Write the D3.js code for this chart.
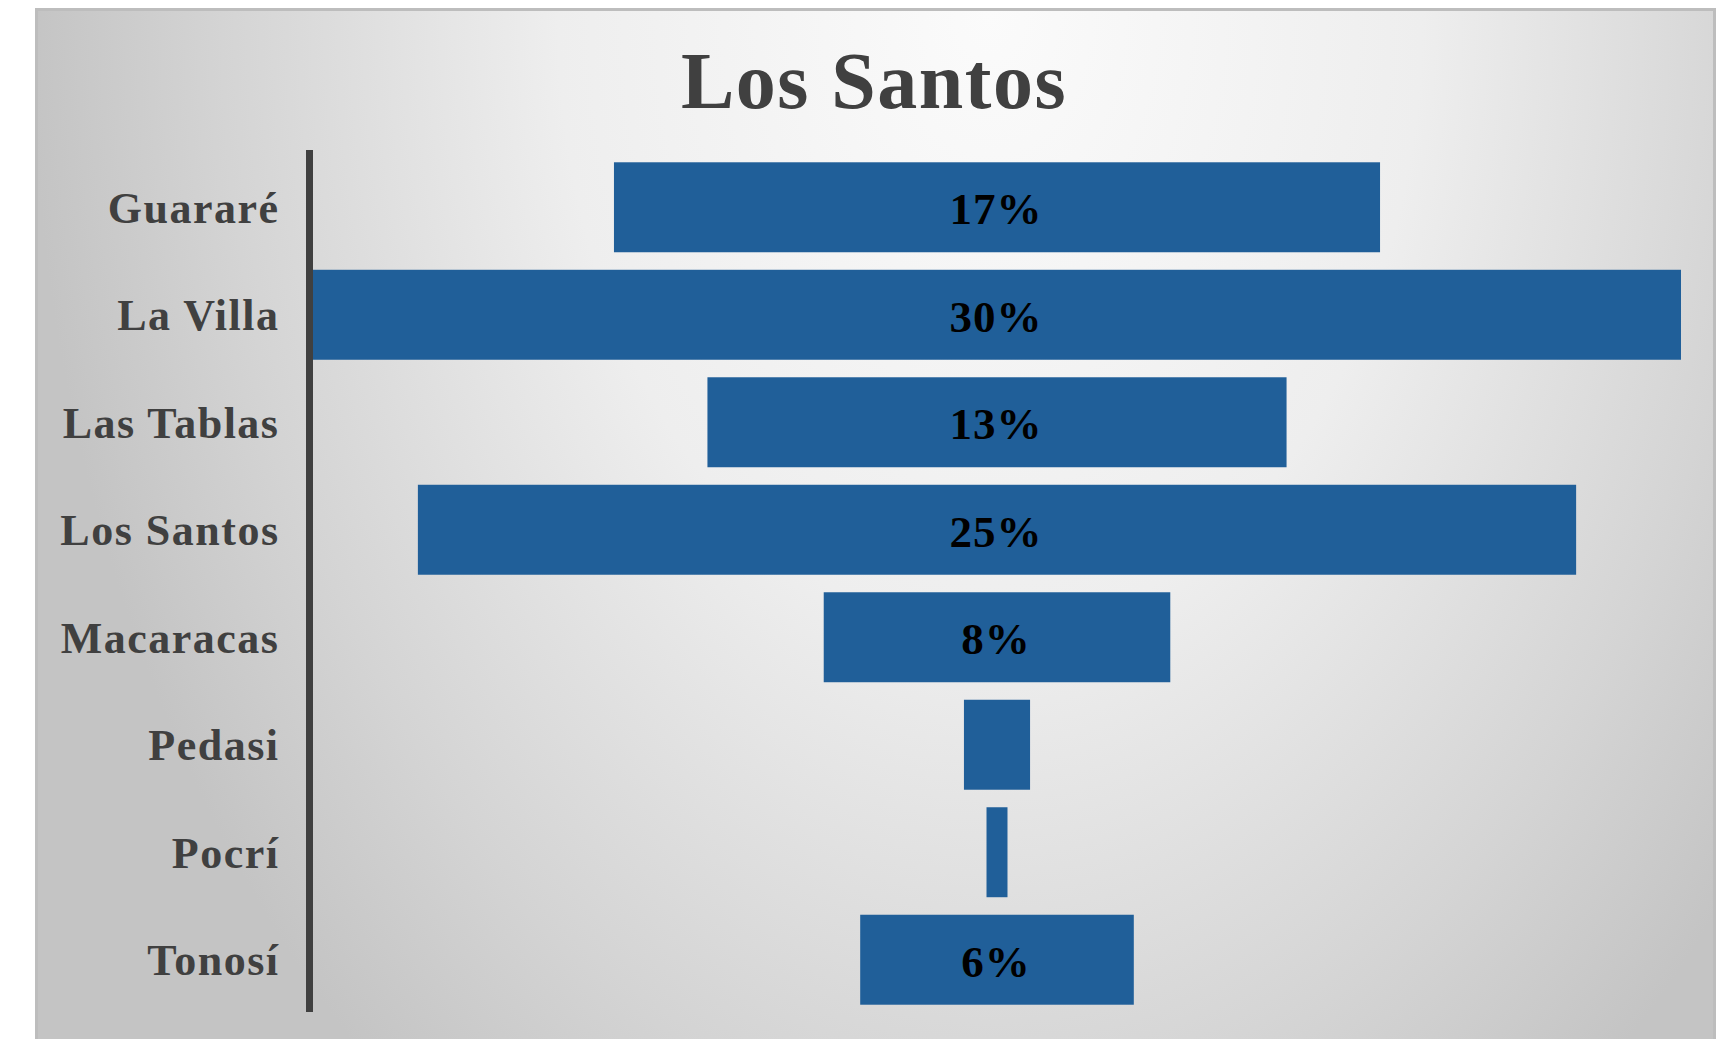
<!DOCTYPE html>
<html>
<head>
<meta charset="utf-8">
<script src="https://cdn.jsdelivr.net/npm/d3@7"></script>
<style>
  html, body { margin: 0; padding: 0; background: #fff; }
  svg { display: block; }
</style>
</head>
<body>
<div id="chart"></div>
<script>
// funnel data
const categories = ["Guararé", "La Villa", "Las Tablas", "Los Santos", "Macaracas", "Pedasi", "Pocrí", "Tonosí"];
const shares = [16.8, 30.0, 12.7, 25.4, 7.6, 1.45, 0.46, 6.0];
const valueLabels = ["17%", "30%", "13%", "25%", "8%", "", "", "6%"];
const titleText = "Los Santos";

let width = 1726;
let height = 1039;
let axisX = 309.5;
let plotLeft = 313, plotRight = 1681;
let center = (plotLeft + plotRight) / 2;
let serif = "'Liberation Serif', 'DejaVu Serif', serif";

let svg = d3.select("#chart")
  .append("svg")
  .attr("width", width)
  .attr("height", height);

// background gradient, bright near top centre
let defs = svg.append("defs");
let grad = defs.append("radialGradient")
  .attr("id", "bg")
  .attr("gradientUnits", "userSpaceOnUse")
  .attr("cx", 0).attr("cy", 0).attr("r", 1)
  .attr("gradientTransform", "translate(990,10) scale(960,1380)");
grad.append("stop").attr("offset", 0).attr("stop-color", "#fbfbfb");
grad.append("stop").attr("offset", 0.45).attr("stop-color", "#eeeeee");
grad.append("stop").attr("offset", 0.8).attr("stop-color", "#d4d4d4");
grad.append("stop").attr("offset", 1).attr("stop-color", "#c4c4c4");

svg.append("rect")
  .attr("x", 36.5).attr("y", 9.5)
  .attr("width", 1678).attr("height", 1100)
  .attr("fill", "url(#bg)")
  .attr("stroke", "#bdbdbd")
  .attr("stroke-width", 3);

let data = categories.map((c, i) => ({ cat: c, v: shares[i], label: valueLabels[i] }));

let y = d3.scaleBand()
  .domain(categories)
  .range([152.5, 1014.5])
  .paddingInner(0.163)
  .paddingOuter(0.091);

let x = d3.scaleLinear()
  .domain([0, d3.max(shares)])
  .range([0, plotRight - plotLeft]);

// bars centred on the funnel axis
svg.selectAll("rect.bar")
  .data(data)
  .enter()
  .append("rect")
  .attr("class", "bar")
  .attr("x", d => center - x(d.v) / 2)
  .attr("y", d => y(d.cat))
  .attr("width", d => x(d.v))
  .attr("height", y.bandwidth())
  .attr("fill", "#205f99");

svg.selectAll("text.val")
  .data(data)
  .enter()
  .append("text")
  .attr("class", "val")
  .attr("x", center - 1)
  .attr("y", d => y(d.cat) + y.bandwidth() / 2)
  .attr("dy", "0.38em")
  .attr("text-anchor", "middle")
  .style("font-family", serif)
  .style("font-weight", "bold")
  .style("font-size", "45px")
  .style("letter-spacing", "1px")
  .attr("fill", "#000")
  .text(d => d.label);

// category axis
let yAxis = d3.axisLeft(y).tickSize(0).tickPadding(30);
let gAxis = svg.append("g")
  .attr("transform", "translate(" + axisX + ",0)")
  .call(yAxis);
gAxis.select(".domain").remove();
gAxis.selectAll("text")
  .attr("dy", "0.35em")
  .style("font-family", serif)
  .style("font-weight", "bold")
  .style("font-size", "44px")
  .style("letter-spacing", "1.5px")
  .attr("fill", "#404040");

svg.append("line")
  .attr("x1", axisX).attr("x2", axisX)
  .attr("y1", 150).attr("y2", 1012)
  .attr("stroke", "#404040")
  .attr("stroke-width", 7);

svg.append("text")
  .attr("x", 874)
  .attr("y", 108)
  .attr("text-anchor", "middle")
  .style("font-family", serif)
  .style("font-weight", "bold")
  .style("font-size", "80px")
  .style("letter-spacing", "1.5px")
  .attr("fill", "#404040")
  .text(titleText);
</script>
</body>
</html>
